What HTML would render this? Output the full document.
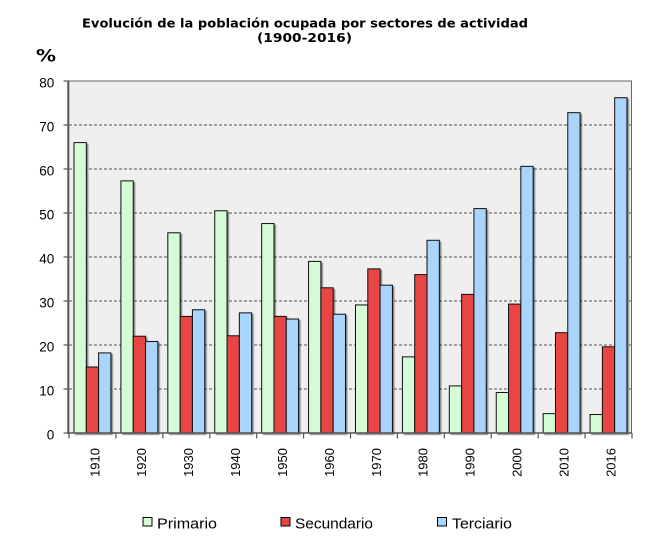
<!DOCTYPE html>
<html><head><meta charset="utf-8"><style>
html,body{margin:0;padding:0;background:#fff;}
svg{display:block;}
</style></head><body>
<svg width="655" height="537" viewBox="0 0 655 537" xmlns="http://www.w3.org/2000/svg">
<defs>
<filter id="sh" x="-20%" y="-5%" width="150%" height="120%">
<feDropShadow dx="1.5" dy="1.5" stdDeviation="0.6" flood-color="#000" flood-opacity="0.45"/>
</filter>
</defs>
<rect width="655" height="537" fill="#fff"/>
<text x="82" y="27.5" font-family="DejaVu Sans, Verdana, sans-serif" font-weight="bold" font-size="12" textLength="446" lengthAdjust="spacingAndGlyphs" fill="#000">Evolución de la población ocupada por sectores de actividad</text>
<text x="257" y="42" font-family="DejaVu Sans, Verdana, sans-serif" font-weight="bold" font-size="12" textLength="95" lengthAdjust="spacingAndGlyphs" fill="#000">(1900-2016)</text>
<text x="36" y="61.5" font-family="DejaVu Sans, Verdana, sans-serif" font-weight="bold" font-size="17" textLength="20" lengthAdjust="spacingAndGlyphs" fill="#000">%</text>
<rect x="69" y="81" width="563" height="352" fill="#efefef"/>
<g stroke="#555" stroke-width="1" stroke-dasharray="3,2" fill="none">
<line x1="69" x2="632" y1="389" y2="389"/>
<line x1="69" x2="632" y1="345" y2="345"/>
<line x1="69" x2="632" y1="301" y2="301"/>
<line x1="69" x2="632" y1="257" y2="257"/>
<line x1="69" x2="632" y1="213" y2="213"/>
<line x1="69" x2="632" y1="169" y2="169"/>
<line x1="69" x2="632" y1="125" y2="125"/>
</g>
<g stroke="#111" stroke-width="1" filter="url(#sh)">
<g fill="#d5fdd5">
<rect x="74" y="142.6" width="12.3" height="290.4"/>
<rect x="120.92" y="180.88" width="12.3" height="252.12"/>
<rect x="167.83" y="232.8" width="12.3" height="200.2"/>
<rect x="214.75" y="210.8" width="12.3" height="222.2"/>
<rect x="261.67" y="223.56" width="12.3" height="209.44"/>
<rect x="308.58" y="261.4" width="12.3" height="171.6"/>
<rect x="355.5" y="304.96" width="12.3" height="128.04"/>
<rect x="402.42" y="356.88" width="12.3" height="76.12"/>
<rect x="449.33" y="385.92" width="12.3" height="47.08"/>
<rect x="496.25" y="392.52" width="12.3" height="40.48"/>
<rect x="543.17" y="413.64" width="12.3" height="19.36"/>
<rect x="590.08" y="414.52" width="12.3" height="18.48"/>
</g>
<g fill="#e84545">
<rect x="86.3" y="367" width="12.3" height="66"/>
<rect x="133.22" y="336.2" width="12.3" height="96.8"/>
<rect x="180.13" y="316.4" width="12.3" height="116.6"/>
<rect x="227.05" y="335.76" width="12.3" height="97.24"/>
<rect x="273.97" y="316.4" width="12.3" height="116.6"/>
<rect x="320.88" y="287.8" width="12.3" height="145.2"/>
<rect x="367.8" y="268.88" width="12.3" height="164.12"/>
<rect x="414.72" y="274.6" width="12.3" height="158.4"/>
<rect x="461.63" y="294.4" width="12.3" height="138.6"/>
<rect x="508.55" y="304.08" width="12.3" height="128.92"/>
<rect x="555.47" y="332.68" width="12.3" height="100.32"/>
<rect x="602.38" y="346.76" width="12.3" height="86.24"/>
</g>
<g fill="#a9d5fd">
<rect x="98.6" y="352.92" width="12.3" height="80.08"/>
<rect x="145.52" y="341.48" width="12.3" height="91.52"/>
<rect x="192.43" y="309.8" width="12.3" height="123.2"/>
<rect x="239.35" y="312.88" width="12.3" height="120.12"/>
<rect x="286.27" y="319.04" width="12.3" height="113.96"/>
<rect x="333.18" y="314.2" width="12.3" height="118.8"/>
<rect x="380.1" y="285.16" width="12.3" height="147.84"/>
<rect x="427.02" y="240.28" width="12.3" height="192.72"/>
<rect x="473.93" y="208.6" width="12.3" height="224.4"/>
<rect x="520.85" y="166.36" width="12.3" height="266.64"/>
<rect x="567.77" y="112.68" width="12.3" height="320.32"/>
<rect x="614.68" y="97.72" width="12.3" height="335.28"/>
</g>
</g>
<line x1="69" x2="632" y1="81" y2="81" stroke="#666" stroke-width="1"/>
<line x1="631.5" x2="631.5" y1="81" y2="433" stroke="#666" stroke-width="1"/>
<line x1="68.3" x2="68.3" y1="80.5" y2="434" stroke="#555" stroke-width="2"/>
<line x1="68" x2="632" y1="433" y2="433" stroke="#555" stroke-width="1.5"/>
<g stroke="#555" stroke-width="1.2">
<line x1="63.5" x2="69" y1="433" y2="433"/><line x1="63.5" x2="69" y1="389" y2="389"/>
<line x1="63.5" x2="69" y1="345" y2="345"/><line x1="63.5" x2="69" y1="301" y2="301"/>
<line x1="63.5" x2="69" y1="257" y2="257"/><line x1="63.5" x2="69" y1="213" y2="213"/>
<line x1="63.5" x2="69" y1="169" y2="169"/><line x1="63.5" x2="69" y1="125" y2="125"/>
<line x1="63.5" x2="69" y1="81" y2="81"/>
<line x1="69" x2="69" y1="433" y2="438.5"/>
<line x1="115.92" x2="115.92" y1="433" y2="438.5"/>
<line x1="162.83" x2="162.83" y1="433" y2="438.5"/>
<line x1="209.75" x2="209.75" y1="433" y2="438.5"/>
<line x1="256.67" x2="256.67" y1="433" y2="438.5"/>
<line x1="303.58" x2="303.58" y1="433" y2="438.5"/>
<line x1="350.5" x2="350.5" y1="433" y2="438.5"/>
<line x1="397.42" x2="397.42" y1="433" y2="438.5"/>
<line x1="444.33" x2="444.33" y1="433" y2="438.5"/>
<line x1="491.25" x2="491.25" y1="433" y2="438.5"/>
<line x1="538.17" x2="538.17" y1="433" y2="438.5"/>
<line x1="585.08" x2="585.08" y1="433" y2="438.5"/>
<line x1="632" x2="632" y1="433" y2="438.5"/>
</g>
<g font-family="Liberation Sans, Arial, sans-serif" font-size="13.5" fill="#000" text-anchor="end">
<text x="54.3" y="439.3">0</text><text x="54.3" y="395.3">10</text>
<text x="54.3" y="351.3">20</text><text x="54.3" y="307.3">30</text>
<text x="54.3" y="263.3">40</text><text x="54.3" y="219.3">50</text>
<text x="54.3" y="175.3">60</text><text x="54.3" y="131.3">70</text>
<text x="54.3" y="87.3">80</text>
</g>
<g font-family="Liberation Sans, Arial, sans-serif" font-size="13" fill="#000" text-anchor="end">
<text transform="translate(99.26,448) rotate(-90)">1910</text>
<text transform="translate(146.18,448) rotate(-90)">1920</text>
<text transform="translate(193.09,448) rotate(-90)">1930</text>
<text transform="translate(240.01,448) rotate(-90)">1940</text>
<text transform="translate(286.93,448) rotate(-90)">1950</text>
<text transform="translate(333.84,448) rotate(-90)">1960</text>
<text transform="translate(380.76,448) rotate(-90)">1970</text>
<text transform="translate(427.68,448) rotate(-90)">1980</text>
<text transform="translate(474.59,448) rotate(-90)">1990</text>
<text transform="translate(521.51,448) rotate(-90)">2000</text>
<text transform="translate(568.43,448) rotate(-90)">2010</text>
<text transform="translate(615.34,448) rotate(-90)">2016</text>
</g>
<rect x="143" y="517.5" width="9" height="8.5" fill="#d5fdd5" stroke="#000" stroke-width="1"/>
<rect x="281" y="517.5" width="9" height="8.5" fill="#e84545" stroke="#000" stroke-width="1"/>
<rect x="437.5" y="517.5" width="9" height="8.5" fill="#a9d5fd" stroke="#000" stroke-width="1"/>
<g font-family="Liberation Sans, Arial, sans-serif" font-size="14.5" fill="#000">
<text x="157" y="528.5" textLength="60" lengthAdjust="spacingAndGlyphs">Primario</text>
<text x="295" y="528.5" textLength="78" lengthAdjust="spacingAndGlyphs">Secundario</text>
<text x="452" y="528.5" textLength="60" lengthAdjust="spacingAndGlyphs">Terciario</text>
</g>
</svg>
</body></html>
